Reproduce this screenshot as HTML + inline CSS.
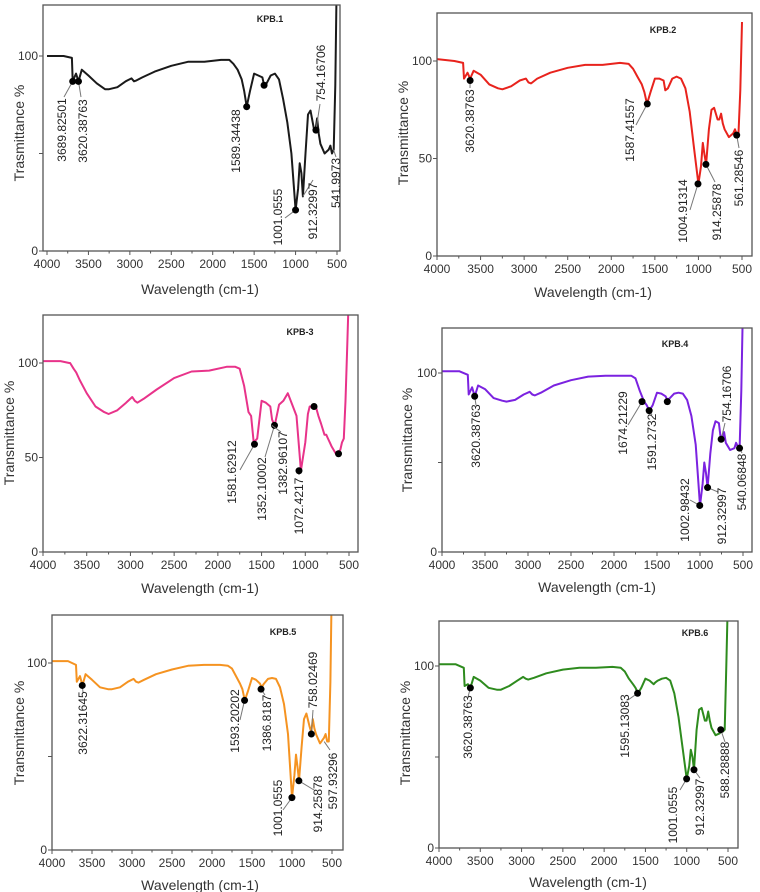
<!DOCTYPE html>
<html><head><meta charset="utf-8"><style>
html,body{margin:0;padding:0;background:#fff;}
svg{display:block;font-family:"Liberation Sans",sans-serif;}
</style></head><body>
<svg id="fig" width="760" height="892" viewBox="0 0 760 892"></svg>
<script>
const wn=[4000,3800,3700,3690,3650,3620,3580,3500,3400,3300,3250,3150,3050,2980,2950,2920,2850,2700,2500,2300,2100,1900,1800,1750,1700,1650,1620,1590,1550,1500,1450,1400,1380,1350,1300,1250,1200,1150,1100,1050,1000,970,950,930,912,880,850,820,780,760,740,720,700,650,600,580,560,540,520,500];
const t1=[100,100,99,87,91,87,93,90,86,83,83,84,87,88.5,87,87.5,89,92,95,97,97,98,98,96,93,88,82,74,82,91,90,89,85,86,90,91,88,78,66,50,21,32,45,40,28,50,70,72,63,62,68,60,55,50,52,54,50,52,85,150];
const t2=[101,100,99,91,94,91,95,93,88,86,85.5,87,90,91,89,88.5,91,94,96.5,98,98,99,98.5,96,92,88,84,78,84,91,91,90,85,86,91,92,91,86,74,55,37,46,58,52,47,65,75,76,70,70,73,68,65,61,63,65,62,63,85,120];
const t3=[101,101,100,100,97,95,91,84,77,74,73,75,79,82,80,79,81,86,92,95.5,96,98,98,97,88,74,72,58,60,80,79,77,70,67,78,80,84,78,72,43,58,73,77,77,78,77,72,68,62,62,60,58,56,52,54,58,60,80,110,140];
const t4=[101,101,99,88,92,87,93,91,86,84.5,84,85,88,89.5,88,87.5,89,93,96,98,98.5,98.5,98.5,97,90,84,82,79,82,89,88.5,87,85,86,88.5,89,88.5,85,76,60,26,38,50,44,36,55,68,73,72,64,63,67,61,57,58,61,59,58,90,140];
const t5=[101,101,99,90,93,88,94,91,87,86,86,87,90,91.5,90,89.5,91,94,96.5,98.5,99,99,98.5,97,93,89,86,80,85,92,91,89,87,89,91.5,92,91.5,87,78,62,28,40,51,44,37,55,70,73,66,63,70,65,62,57,60,62,58,58,90,150];
const t6=[101,101,99,89,90,88,94,92,88,87,87,89,92,94,93,92.5,93.5,96,98,99,99,99.5,99,97,93,90,88,85,88,93,92,90,91,92,93,93.5,92,85,72,55,38,45,54,50,43,65,76,77,70,70,75,70,66,62,63,65,64,65,100,140];
const xTicks=[4000,3500,3000,2500,2000,1500,1000,500];
const yTickVals=[0,50,100];

const p1Wn=[3690,3620,1590,1380,1000,912,754,542];
const p1T=[87,87,74,85,21,28,62,52];
const p1Lbl=["3689.82501","3620.38763","1589.34438","","1001.0555","912.32997","754.16706","541.9973"];
const p2Wn=[3620,1587,1005,914,561];
const p2T=[90,78,37,47,62];
const p2Lbl=["3620.38763","1587.41557","1004.91314","914.25878","561.28546"];
const p3Wn=[1581,1352,1383,1072,900,620];
const p3T=[57,67,67,43,77,52];
const p3Lbl=["1581.62912","1352.10002","1382.96107","1072.4217","",""];
const p4Wn=[3620,1674,1591,1380,1003,912,754,540];
const p4T=[87,84,79,84,26,36,63,58];
const p4Lbl=["3620.38763","1674.21229","1591.2732","","1002.98432","912.32997","754.16706","540.06848"];
const p5Wn=[3622,1593,1387,758,1001,914,598];
const p5T=[88,80,86,62,28,37,58];
const p5Lbl=["3622.31645","1593.20202","1386.8187","758.02469","1001.0555","914.25878","597.93296"];
const p6Wn=[3620,1595,1001,912,588];
const p6T=[88,85,38,43,65];
const p6Lbl=["3620.38763","1595.13083","1001.0555","912.32997","588.28888"];

const panels=[
 {id:1,series:t1,pw:p1Wn,pt:p1T,pl:p1Lbl,color:"#1a1a1a",box:[43,5,340,251],x4000:47,x500:337,y100:56,y0:251,title:"KPB.1",tp:[270,22],yt:"Trasmittance %",ytp:[19,133],xtp:[200,289],yl:[0,100],
  hide:[false,false,false,false,false,true,false,true],
  lay:[[62,130,64,97],[83,131,81,97],[236,141,null,null],null,[278,217,285,218],[313,211,313,180],[321,73,320,104],[336,183,336,157]]},
 {id:2,series:t2,pw:p2Wn,pt:p2Lbl?p2T:p2T,pl:p2Lbl,color:"#e8231d",box:[437,13,752,256],x4000:437,x500:742,y100:61,y0:256,title:"KPB.2",tp:[663,33],yt:"Transmittance %",ytp:[403,133],xtp:[593,292],yl:[0,50,100],
  hide:[false,false,false,false,false],
  lay:[[470,121,470,88],[630,130,636,125],[683,211,690,210],[717,212,715,182],[739,178,739,148]]},
 {id:3,series:t3,pw:p3Wn,pt:p3T,pl:p3Lbl,color:"#e8338a",box:[43,315,358,552],x4000:43,x500:349,y100:363,y0:552,title:"KPB-3",tp:[300,335],yt:"Transmittance %",ytp:[9,433],xtp:[200,588],yl:[0,50,100],
  hide:[false,false,true,false,false,false],
  lay:[[232,472,240,470],[262,489,265,457],[283,463,281,432],[299,506,299,475],null,null]},
 {id:4,series:t4,pw:p4Wn,pt:p4T,pl:p4Lbl,color:"#7b22e0",box:[442,328,752,552],x4000:442,x500:743,y100:373,y0:552,title:"KPB.4",tp:[675,347],yt:"Transmittance %",ytp:[407,440],xtp:[597,587],yl:[0,100],
  hide:[false,false,false,false,false,false,false,false],
  lay:[[476,436,476,405],[623,423,628,425],[652,442,652,415],null,[685,510,690,500],[722,516,718,492],[727,394,725,423],[742,482,742,453]]},
 {id:5,series:t5,pw:p5Wn,pt:p5T,pl:p5Lbl,color:"#f59321",box:[52,615,343,850],x4000:52,x500:332,y100:663,y0:850,title:"KPB.5",tp:[283,635],yt:"Transmittance %",ytp:[19,733],xtp:[200,885],yl:[0,100],
  hide:[false,false,false,false,false,false,true],
  lay:[[83,723,83,692],[235,721,240,720],[267,723,265,695],[313,680,313,710],[278,808,283,810],[318,804,314,790],[333,781,330,750]]},
 {id:6,series:t6,pw:p6Wn,pt:p6T,pl:p6Lbl,color:"#2e8b1e",box:[439,621,738,848],x4000:439,x500:728,y100:666,y0:848,title:"KPB.6",tp:[695,636],yt:"Transmittance %",ytp:[405,733],xtp:[588,882],yl:[0,100],
  hide:[false,false,false,false,false],
  lay:[[468,727,468,697],[625,726,628,700],[673,815,680,790],[700,807,700,778],[725,770,725,742]]}
];
const NS="http://www.w3.org/2000/svg";
const svg=document.getElementById('fig');
function mk(tag,attrs,parent){const e=document.createElementNS(NS,tag);for(const k in attrs)e.setAttribute(k,attrs[k]);(parent||svg).appendChild(e);return e;}
panels.forEach(p=>{
  const g=mk('g',{});
  
  
  const xs=w=>p.x4000+(4000-w)*(p.x500-p.x4000)/3500;
  const ys=t=>p.y0-(p.y0-p.y100)*t/100;
  const [L,T,R,B]=p.box;
  const cp=mk('clipPath',{id:'clip'+p.id},g);
  mk('rect',{x:L,y:T,width:R-L,height:B-T},cp);
  const line=mk('polyline',{points:wn.map((w,i)=>xs(w).toFixed(1)+','+ys(p.series[i]).toFixed(1)).join(' '),fill:'none',stroke:p.color,'stroke-width':2,'stroke-linejoin':'round','clip-path':'url(#clip'+p.id+')'},g);
  
  
  const frame=mk('rect',{x:L,y:T,width:R-L,height:B-T,fill:'none',stroke:'#555','stroke-width':1.3},g);
  
  
  xTicks.forEach(v=>{
    const x=xs(v);
    mk('line',{x1:x,x2:x,y1:B,y2:B+4,stroke:'#555','stroke-width':1},g);
    const mx=xs(v-250);
    if(v>500) mk('line',{x1:mx,x2:mx,y1:B,y2:B+2.5,stroke:'#555','stroke-width':1},g);
    const t=mk('text',{x:x,y:B+17,'text-anchor':'middle','font-size':12,fill:'#333'},g);
    t.textContent=v;
    
    
  });
  yTickVals.forEach(v=>{
    const y=ys(v);
    mk('line',{x1:L-4,x2:L,y1:y,y2:y,stroke:'#555','stroke-width':1},g);
    if(p.yl.indexOf(v)>=0){
      const t=mk('text',{x:L-5,y:y+4,'text-anchor':'end','font-size':12,fill:'#333'},g);
      t.textContent=v;
      
      
    }
  });
  const tt=mk('text',{x:p.tp[0],y:p.tp[1],'text-anchor':'middle','font-size':9,'font-weight':'bold',fill:'#222'},g);
  tt.textContent=p.title;
  
  
  const yt=mk('text',{x:p.ytp[0],y:p.ytp[1],'text-anchor':'middle','dominant-baseline':'central','font-size':14,fill:'#333',transform:'rotate(-90 '+p.ytp[0]+' '+p.ytp[1]+')'},g);
  yt.textContent=p.yt;
  
  
  const xt=mk('text',{x:p.xtp[0],y:p.xtp[1],'text-anchor':'middle','dominant-baseline':'central','font-size':14,fill:'#333'},g);
  xt.textContent='Wavelength (cm-1)';
  
  
  p.pw.forEach((w,i)=>{
    const dx=xs(w), dy=ys(p.pt[i]);
    const lay=p.lay[i];
    if(lay && lay[2]!==null){
      mk('line',{x1:dx,y1:dy,x2:lay[2],y2:lay[3],stroke:'#777','stroke-width':1},g);
    }
    if(!p.hide[i]){
      const c=mk('circle',{cx:dx,cy:dy,r:3.5,fill:'#000'},g);
      
      
    }
    if(lay && p.pl[i]){
      const t=mk('text',{x:lay[0],y:lay[1],'text-anchor':'middle','dominant-baseline':'central','font-size':12,fill:'#222',transform:'rotate(-90 '+lay[0]+' '+lay[1]+')'},g);
      t.textContent=p.pl[i];
      
      
    }
  });
});
</script>
</body></html>
